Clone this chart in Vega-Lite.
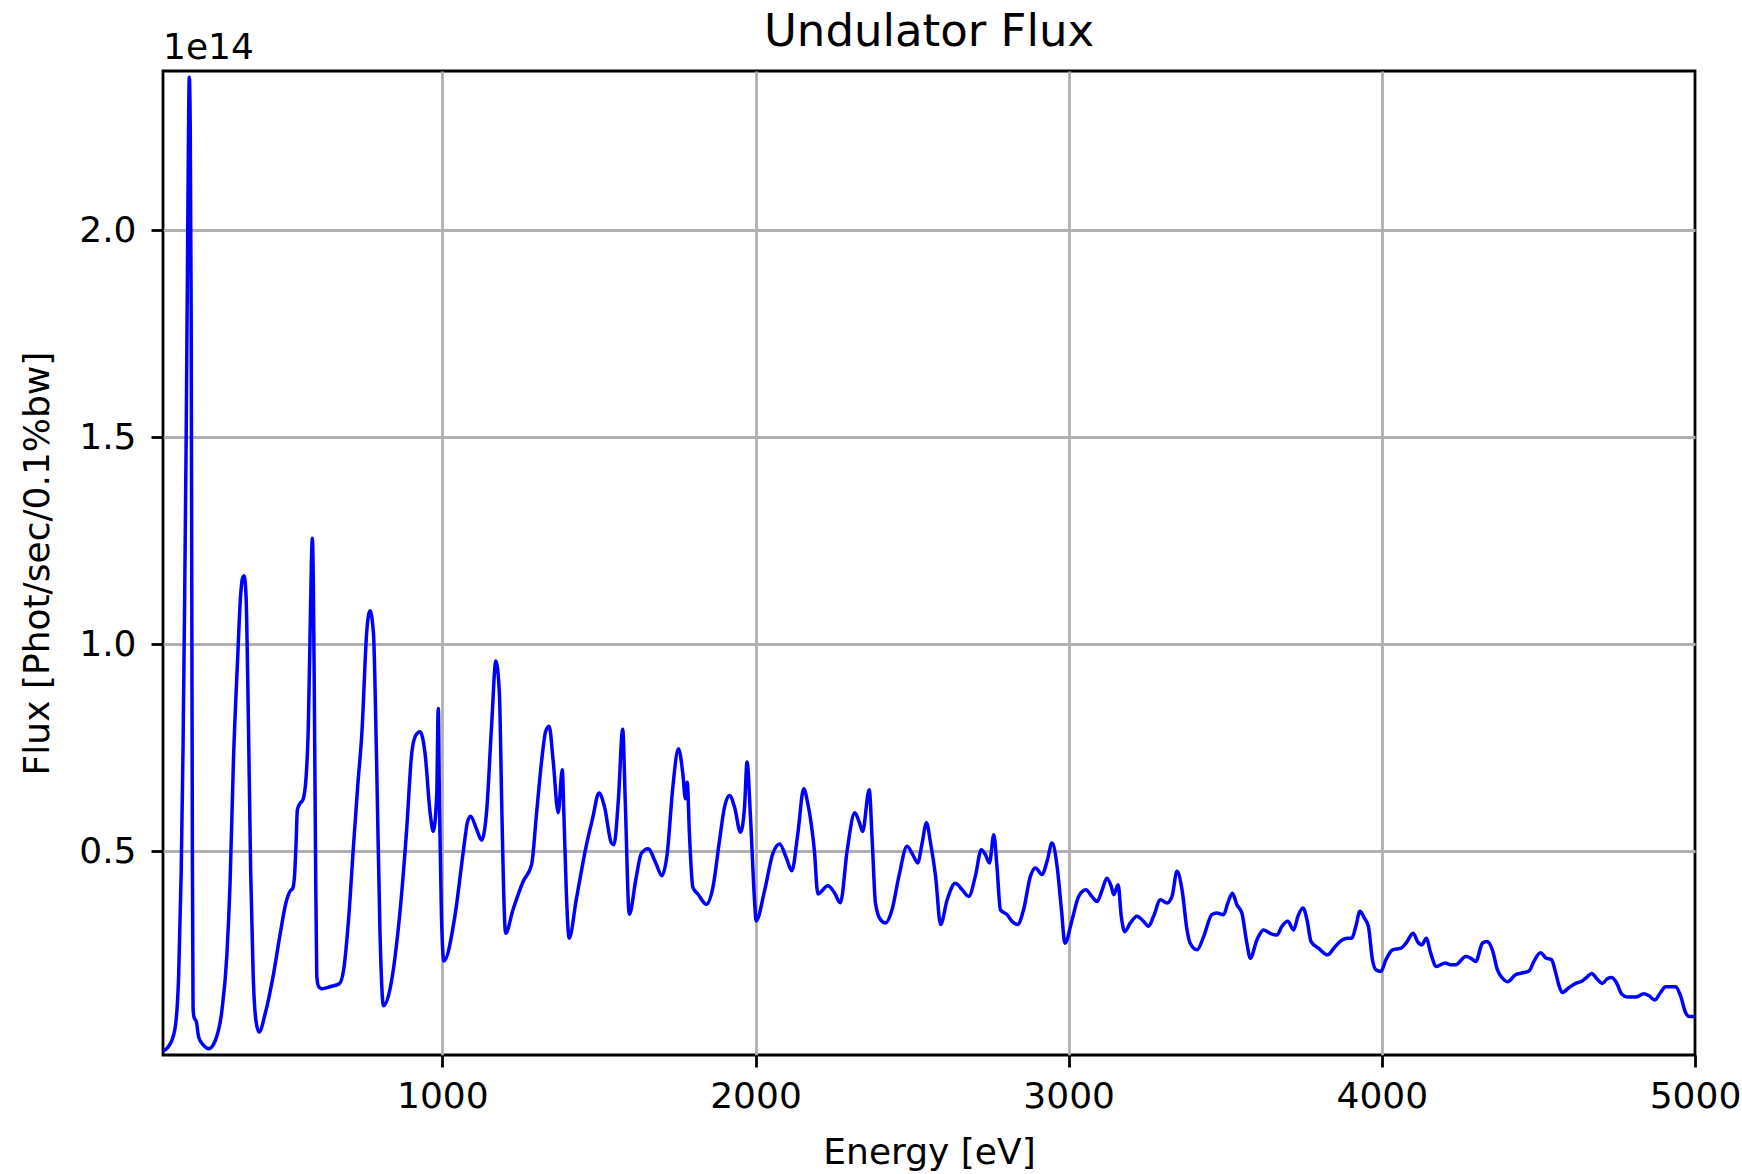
{
 "$schema": "https://vega.github.io/schema/vega-lite/v6.json",
 "width": 1532,
 "height": 984,
 "autosize": {"type": "none"},
 "padding": {"left": 163, "top": 71, "right": 47, "bottom": 119},
 "background": "white",
 "config": {"font": "DejaVu Sans", "view": {"stroke": "black", "strokeWidth": 2.8}},
 "title": {"text": "Undulator Flux", "fontSize": 45, "fontWeight": "normal", "color": "black", "anchor": "middle", "frame": "group", "baseline": "alphabetic", "offset": -61},
 "data": {"values": [
  {"energy": 108, "flux": 1.7e12}, {"energy": 131, "flux": 3.5e12}, {"energy": 147, "flux": 7.5e12}, {"energy": 158, "flux": 2.0e13},
  {"energy": 166, "flux": 4.46e13}, {"energy": 172, "flux": 7.5e13}, {"energy": 177, "flux": 1.1e14}, {"energy": 182, "flux": 1.5e14},
  {"energy": 186, "flux": 1.9e14}, {"energy": 189, "flux": 2.2e14}, {"energy": 192, "flux": 2.37e14}, {"energy": 195, "flux": 2.25e14},
  {"energy": 198, "flux": 1.8e14}, {"energy": 200, "flux": 1.1e14}, {"energy": 202, "flux": 4.5e13}, {"energy": 204, "flux": 1.2e13},
  {"energy": 208, "flux": 9.7e12}, {"energy": 214, "flux": 9.0e12}, {"energy": 222, "flux": 5.1e12}, {"energy": 238, "flux": 3.1e12},
  {"energy": 254, "flux": 2.3e12}, {"energy": 275, "flux": 4.3e12}, {"energy": 296, "flux": 1.15e13}, {"energy": 312, "flux": 2.5e13},
  {"energy": 322, "flux": 4.2e13}, {"energy": 333, "flux": 7.2e13}, {"energy": 346, "flux": 9.6e13}, {"energy": 356, "flux": 1.12e14},
  {"energy": 362, "flux": 1.16e14}, {"energy": 367, "flux": 1.166e14}, {"energy": 373, "flux": 1.12e14}, {"energy": 380, "flux": 8.5e13},
  {"energy": 388, "flux": 4.5e13}, {"energy": 396, "flux": 2.0e13}, {"energy": 405, "flux": 9.0e12}, {"energy": 415, "flux": 6.3e12},
  {"energy": 434, "flux": 1.07e13}, {"energy": 461, "flux": 2.04e13}, {"energy": 482, "flux": 3.0e13}, {"energy": 501, "flux": 3.77e13},
  {"energy": 515, "flux": 4.05e13}, {"energy": 522, "flux": 4.1e13}, {"energy": 528, "flux": 4.4e13}, {"energy": 533, "flux": 5.2e13},
  {"energy": 537, "flux": 6.0e13}, {"energy": 545, "flux": 6.15e13}, {"energy": 555, "flux": 6.25e13}, {"energy": 565, "flux": 6.8e13},
  {"energy": 572, "flux": 8.0e13}, {"energy": 578, "flux": 1.04e14}, {"energy": 582, "flux": 1.2e14}, {"energy": 585, "flux": 1.256e14},
  {"energy": 588, "flux": 1.15e14}, {"energy": 591, "flux": 9.0e13}, {"energy": 595, "flux": 5.0e13}, {"energy": 599, "flux": 2.0e13},
  {"energy": 604, "flux": 1.75e13}, {"energy": 615, "flux": 1.68e13}, {"energy": 642, "flux": 1.73e13}, {"energy": 671, "flux": 1.8e13},
  {"energy": 686, "flux": 2.2e13}, {"energy": 700, "flux": 3.3e13}, {"energy": 716, "flux": 5.1e13}, {"energy": 730, "flux": 6.6e13},
  {"energy": 743, "flux": 7.85e13}, {"energy": 759, "flux": 1.035e14}, {"energy": 769, "flux": 1.081e14}, {"energy": 780, "flux": 1.027e14},
  {"energy": 790, "flux": 7.2e13}, {"energy": 801, "flux": 3.0e13}, {"energy": 812, "flux": 1.27e13}, {"energy": 833, "flux": 1.68e13},
  {"energy": 860, "flux": 3.18e13}, {"energy": 886, "flux": 5.52e13}, {"energy": 902, "flux": 7.35e13}, {"energy": 915, "flux": 7.8e13},
  {"energy": 929, "flux": 7.89e13}, {"energy": 945, "flux": 7.35e13}, {"energy": 961, "flux": 5.93e13}, {"energy": 971, "flux": 5.48e13},
  {"energy": 982, "flux": 6.35e13}, {"energy": 987, "flux": 8.45e13}, {"energy": 991, "flux": 6.0e13}, {"energy": 997, "flux": 3.5e13},
  {"energy": 1005, "flux": 2.35e13}, {"energy": 1040, "flux": 3.43e13}, {"energy": 1067, "flux": 5.0e13}, {"energy": 1080, "flux": 5.7e13},
  {"energy": 1090, "flux": 5.85e13}, {"energy": 1110, "flux": 5.52e13}, {"energy": 1125, "flux": 5.27e13}, {"energy": 1141, "flux": 5.93e13},
  {"energy": 1157, "flux": 8.0e13}, {"energy": 1171, "flux": 9.6e13}, {"energy": 1182, "flux": 8.85e13}, {"energy": 1190, "flux": 6.0e13},
  {"energy": 1195, "flux": 4.27e13}, {"energy": 1202, "flux": 3.02e13}, {"energy": 1226, "flux": 3.6e13}, {"energy": 1258, "flux": 4.27e13},
  {"energy": 1285, "flux": 4.68e13}, {"energy": 1301, "flux": 5.93e13}, {"energy": 1317, "flux": 7.18e13}, {"energy": 1330, "flux": 7.9e13},
  {"energy": 1341, "flux": 8.02e13}, {"energy": 1354, "flux": 7.18e13}, {"energy": 1370, "flux": 5.93e13}, {"energy": 1383, "flux": 6.97e13},
  {"energy": 1388, "flux": 5.93e13}, {"energy": 1396, "flux": 4.0e13}, {"energy": 1405, "flux": 2.9e13}, {"energy": 1428, "flux": 3.85e13},
  {"energy": 1460, "flux": 5.15e13}, {"energy": 1480, "flux": 5.8e13}, {"energy": 1500, "flux": 6.41e13}, {"energy": 1518, "flux": 6.07e13},
  {"energy": 1540, "flux": 5.2e13}, {"energy": 1548, "flux": 5.16e13}, {"energy": 1562, "flux": 6.23e13}, {"energy": 1576, "flux": 7.95e13},
  {"energy": 1584, "flux": 6.23e13}, {"energy": 1597, "flux": 3.48e13}, {"energy": 1619, "flux": 4.37e13}, {"energy": 1635, "flux": 4.94e13},
  {"energy": 1657, "flux": 5.06e13}, {"energy": 1683, "flux": 4.69e13}, {"energy": 1701, "flux": 4.41e13}, {"energy": 1718, "flux": 4.94e13},
  {"energy": 1736, "flux": 6.55e13}, {"energy": 1754, "flux": 7.48e13}, {"energy": 1768, "flux": 6.87e13}, {"energy": 1776, "flux": 6.27e13},
  {"energy": 1782, "flux": 6.67e13}, {"energy": 1789, "flux": 5.42e13}, {"energy": 1800, "flux": 4.13e13}, {"energy": 1816, "flux": 3.97e13},
  {"energy": 1843, "flux": 3.72e13}, {"energy": 1864, "flux": 4.13e13}, {"energy": 1885, "flux": 5.26e13}, {"energy": 1901, "flux": 6.07e13},
  {"energy": 1917, "flux": 6.35e13}, {"energy": 1933, "flux": 6.07e13}, {"energy": 1952, "flux": 5.46e13}, {"energy": 1965, "flux": 6.07e13},
  {"energy": 1973, "flux": 7.16e13}, {"energy": 1984, "flux": 5.82e13}, {"energy": 1997, "flux": 3.8e13}, {"energy": 2002, "flux": 3.32e13},
  {"energy": 2029, "flux": 4.05e13}, {"energy": 2055, "flux": 4.94e13}, {"energy": 2077, "flux": 5.18e13}, {"energy": 2098, "flux": 4.85e13},
  {"energy": 2116, "flux": 4.53e13}, {"energy": 2135, "flux": 5.42e13}, {"energy": 2154, "flux": 6.51e13}, {"energy": 2167, "flux": 6.15e13},
  {"energy": 2178, "flux": 5.66e13}, {"energy": 2188, "flux": 5.02e13}, {"energy": 2199, "flux": 3.97e13}, {"energy": 2231, "flux": 4.17e13},
  {"energy": 2252, "flux": 4.0e13}, {"energy": 2271, "flux": 3.76e13}, {"energy": 2293, "flux": 5.04e13}, {"energy": 2317, "flux": 5.93e13},
  {"energy": 2332, "flux": 5.69e13}, {"energy": 2342, "flux": 5.48e13}, {"energy": 2363, "flux": 6.49e13}, {"energy": 2373, "flux": 5.2e13},
  {"energy": 2383, "flux": 3.75e13}, {"energy": 2399, "flux": 3.35e13}, {"energy": 2415, "flux": 3.27e13}, {"energy": 2436, "flux": 3.59e13},
  {"energy": 2458, "flux": 4.4e13}, {"energy": 2484, "flux": 5.12e13}, {"energy": 2502, "flux": 4.92e13}, {"energy": 2518, "flux": 4.72e13},
  {"energy": 2532, "flux": 5.2e13}, {"energy": 2546, "flux": 5.69e13}, {"energy": 2559, "flux": 5.2e13}, {"energy": 2575, "flux": 4.4e13},
  {"energy": 2591, "flux": 3.23e13}, {"energy": 2612, "flux": 3.83e13}, {"energy": 2638, "flux": 4.23e13}, {"energy": 2660, "flux": 4.07e13},
  {"energy": 2681, "flux": 3.91e13}, {"energy": 2702, "flux": 4.4e13}, {"energy": 2721, "flux": 5.04e13}, {"energy": 2734, "flux": 4.92e13},
  {"energy": 2747, "flux": 4.72e13}, {"energy": 2761, "flux": 5.4e13}, {"energy": 2771, "flux": 4.64e13}, {"energy": 2782, "flux": 3.59e13},
  {"energy": 2803, "flux": 3.47e13}, {"energy": 2819, "flux": 3.31e13}, {"energy": 2837, "flux": 3.23e13}, {"energy": 2856, "flux": 3.59e13},
  {"energy": 2878, "flux": 4.4e13}, {"energy": 2894, "flux": 4.6e13}, {"energy": 2915, "flux": 4.44e13}, {"energy": 2931, "flux": 4.76e13},
  {"energy": 2947, "flux": 5.2e13}, {"energy": 2963, "flux": 4.64e13}, {"energy": 2977, "flux": 3.59e13}, {"energy": 2988, "flux": 2.78e13},
  {"energy": 3011, "flux": 3.35e13}, {"energy": 3032, "flux": 3.91e13}, {"energy": 3055, "flux": 4.07e13}, {"energy": 3075, "flux": 3.9e13},
  {"energy": 3091, "flux": 3.79e13}, {"energy": 3107, "flux": 4.07e13}, {"energy": 3122, "flux": 4.35e13}, {"energy": 3136, "flux": 4.15e13},
  {"energy": 3144, "flux": 3.95e13}, {"energy": 3158, "flux": 4.19e13}, {"energy": 3168, "flux": 3.43e13}, {"energy": 3179, "flux": 3.06e13},
  {"energy": 3197, "flux": 3.27e13}, {"energy": 3218, "flux": 3.43e13}, {"energy": 3239, "flux": 3.31e13}, {"energy": 3255, "flux": 3.19e13},
  {"energy": 3271, "flux": 3.43e13}, {"energy": 3293, "flux": 3.83e13}, {"energy": 3314, "flux": 3.75e13}, {"energy": 3330, "flux": 3.91e13},
  {"energy": 3346, "flux": 4.52e13}, {"energy": 3362, "flux": 4.07e13}, {"energy": 3378, "flux": 3.1e13}, {"energy": 3388, "flux": 2.78e13},
  {"energy": 3410, "flux": 2.62e13}, {"energy": 3431, "flux": 2.94e13}, {"energy": 3457, "flux": 3.47e13}, {"energy": 3473, "flux": 3.51e13},
  {"energy": 3495, "flux": 3.47e13}, {"energy": 3508, "flux": 3.75e13}, {"energy": 3523, "flux": 3.99e13}, {"energy": 3537, "flux": 3.71e13},
  {"energy": 3553, "flux": 3.51e13}, {"energy": 3569, "flux": 2.78e13}, {"energy": 3580, "flux": 2.42e13}, {"energy": 3601, "flux": 2.86e13},
  {"energy": 3622, "flux": 3.1e13}, {"energy": 3643, "flux": 3.02e13}, {"energy": 3665, "flux": 2.98e13}, {"energy": 3681, "flux": 3.19e13},
  {"energy": 3700, "flux": 3.31e13}, {"energy": 3718, "flux": 3.1e13}, {"energy": 3732, "flux": 3.43e13}, {"energy": 3748, "flux": 3.63e13},
  {"energy": 3761, "flux": 3.35e13}, {"energy": 3774, "flux": 2.82e13}, {"energy": 3798, "flux": 2.66e13}, {"energy": 3827, "flux": 2.5e13},
  {"energy": 3851, "flux": 2.7e13}, {"energy": 3872, "flux": 2.85e13}, {"energy": 3890, "flux": 2.9e13}, {"energy": 3904, "flux": 2.9e13},
  {"energy": 3917, "flux": 3.19e13}, {"energy": 3930, "flux": 3.55e13}, {"energy": 3944, "flux": 3.39e13}, {"energy": 3957, "flux": 3.19e13},
  {"energy": 3970, "flux": 2.38e13}, {"energy": 3981, "flux": 2.14e13}, {"energy": 3997, "flux": 2.1e13}, {"energy": 4013, "flux": 2.38e13},
  {"energy": 4034, "flux": 2.62e13}, {"energy": 4061, "flux": 2.66e13}, {"energy": 4077, "flux": 2.78e13}, {"energy": 4100, "flux": 3.02e13},
  {"energy": 4114, "flux": 2.82e13}, {"energy": 4128, "flux": 2.74e13}, {"energy": 4142, "flux": 2.9e13}, {"energy": 4156, "flux": 2.54e13},
  {"energy": 4174, "flux": 2.22e13}, {"energy": 4202, "flux": 2.3e13}, {"energy": 4220, "flux": 2.26e13}, {"energy": 4236, "flux": 2.26e13},
  {"energy": 4268, "flux": 2.46e13}, {"energy": 4284, "flux": 2.42e13}, {"energy": 4300, "flux": 2.34e13}, {"energy": 4321, "flux": 2.78e13},
  {"energy": 4335, "flux": 2.82e13}, {"energy": 4353, "flux": 2.62e13}, {"energy": 4369, "flux": 2.14e13}, {"energy": 4385, "flux": 1.94e13},
  {"energy": 4401, "flux": 1.85e13}, {"energy": 4427, "flux": 2.02e13}, {"energy": 4447, "flux": 2.06e13}, {"energy": 4470, "flux": 2.11e13},
  {"energy": 4486, "flux": 2.35e13}, {"energy": 4507, "flux": 2.55e13}, {"energy": 4523, "flux": 2.43e13}, {"energy": 4542, "flux": 2.38e13},
  {"energy": 4555, "flux": 2.07e13}, {"energy": 4566, "flux": 1.75e13}, {"energy": 4576, "flux": 1.59e13}, {"energy": 4598, "flux": 1.71e13},
  {"energy": 4619, "flux": 1.81e13}, {"energy": 4640, "flux": 1.87e13}, {"energy": 4656, "flux": 1.97e13}, {"energy": 4670, "flux": 2.05e13},
  {"energy": 4688, "flux": 1.91e13}, {"energy": 4704, "flux": 1.81e13}, {"energy": 4720, "flux": 1.92e13}, {"energy": 4734, "flux": 1.95e13},
  {"energy": 4749, "flux": 1.83e13}, {"energy": 4766, "flux": 1.55e13}, {"energy": 4784, "flux": 1.48e13}, {"energy": 4810, "flux": 1.48e13},
  {"energy": 4837, "flux": 1.56e13}, {"energy": 4853, "flux": 1.51e13}, {"energy": 4872, "flux": 1.41e13}, {"energy": 4890, "flux": 1.59e13},
  {"energy": 4906, "flux": 1.73e13}, {"energy": 4938, "flux": 1.73e13}, {"energy": 4954, "flux": 1.51e13}, {"energy": 4970, "flux": 1.1e13},
  {"energy": 4981, "flux": 1.01e13}, {"energy": 5000, "flux": 1.01e13}
 ]},
 "layer": [
  {
   "mark": {"type": "line", "color": "blue", "strokeWidth": 3.5, "interpolate": "monotone", "clip": true},
   "encoding": {
    "x": {"field": "energy", "type": "quantitative",
     "scale": {"domain": [108, 5000], "nice": false, "zero": false},
     "axis": {"title": "Energy [eV]", "values": [1000, 2000, 3000, 4000, 5000], "format": "d",
      "labelFontSize": 36, "titleFontSize": 36, "titleFontWeight": "normal", "labelColor": "black", "titleColor": "black",
      "tickColor": "black", "tickWidth": 2.8, "tickSize": 12, "labelPadding": 12, "titlePadding": 21,
      "domain": false, "grid": true, "gridColor": "#b0b0b0", "gridWidth": 2.8,
      "gridOpacity": {"condition": {"test": "datum.value >= 5000", "value": 0}, "value": 1},
      "labelFlush": false}},
    "y": {"field": "flux", "type": "quantitative",
     "scale": {"domain": [8e11, 2.385e14], "nice": false, "zero": false},
     "axis": {"title": "Flux [Phot/sec/0.1%bw]", "values": [5e13, 1e14, 1.5e14, 2e14],
      "labelExpr": "format(datum.value / 1e14, '.1f')",
      "labelFontSize": 36, "titleFontSize": 36, "titleFontWeight": "normal", "labelColor": "black", "titleColor": "black",
      "tickColor": "black", "tickWidth": 2.8, "tickSize": 12, "labelPadding": 15, "titlePadding": 22,
      "domain": false, "grid": true, "gridColor": "#b0b0b0", "gridWidth": 2.8, "labelFlush": false}}
   }
  },
  {
   "data": {"values": [{"label": "1e14"}]},
   "mark": {"type": "text", "align": "left", "baseline": "alphabetic", "dy": -12, "fontSize": 36, "color": "black"},
   "encoding": {
    "text": {"field": "label"},
    "x": {"datum": 108, "type": "quantitative"},
    "y": {"datum": 2.385e14, "type": "quantitative"}
   }
  }
 ]
}
